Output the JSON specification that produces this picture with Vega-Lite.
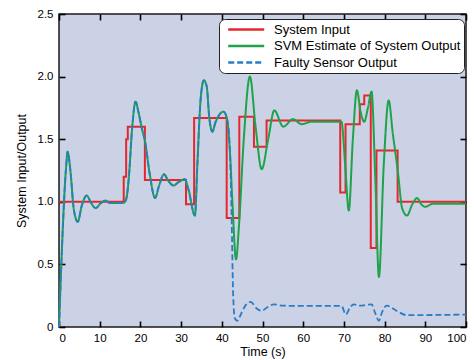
{
  "$schema": "https://vega.github.io/schema/vega-lite/v6.json",
  "width": 407,
  "height": 313,
  "autosize": "none",
  "padding": {"left": 59, "top": 14, "right": 8, "bottom": 33},
  "background": "white",
  "config": {
    "font": "Liberation Sans",
    "view": {"fill": "#cbd2e5", "stroke": "#1a1a1a", "strokeWidth": 1.5},
    "axis": {
      "domain": false, "offset": -6,
      "tickColor": "black", "tickWidth": 1.6, "tickSize": 6,
      "labelFont": "Liberation Sans", "labelFontSize": 11.5, "labelColor": "black",
      "titleFont": "Liberation Sans", "titleFontSize": 12.5, "titleColor": "black", "titleFontWeight": "normal",
      "grid": false
    },
    "legend": {
      "orient": "none", "legendX": 160, "legendY": 5,
      "fillColor": "white", "strokeColor": "#222222", "cornerRadius": 6,
      "padding": 3, "symbolType": "M-3,0H3", "symbolSize": 144, "symbolStrokeWidth": 2.5,
      "symbolOffset": 16.7, "labelFont": "Liberation Sans", "labelFontSize": 13, "labelColor": "black",
      "labelOffset": 20.3, "rowPadding": 1.5, "labelLimit": 300
    }
  },
  "data": {
    "values": [
      {"s": "System Input", "i": 1, "t": 0, "v": 1.0},
      {"s": "System Input", "i": 2, "t": 15.9, "v": 1.0},
      {"s": "System Input", "i": 3, "t": 15.9, "v": 1.2},
      {"s": "System Input", "i": 4, "t": 16.5, "v": 1.2},
      {"s": "System Input", "i": 5, "t": 16.5, "v": 1.5},
      {"s": "System Input", "i": 6, "t": 16.9, "v": 1.5},
      {"s": "System Input", "i": 7, "t": 16.9, "v": 1.6},
      {"s": "System Input", "i": 8, "t": 21.1, "v": 1.6},
      {"s": "System Input", "i": 9, "t": 21.1, "v": 1.175},
      {"s": "System Input", "i": 10, "t": 31.2, "v": 1.175},
      {"s": "System Input", "i": 11, "t": 31.2, "v": 0.98},
      {"s": "System Input", "i": 12, "t": 33.2, "v": 0.98},
      {"s": "System Input", "i": 13, "t": 33.2, "v": 1.67},
      {"s": "System Input", "i": 14, "t": 41.2, "v": 1.67},
      {"s": "System Input", "i": 15, "t": 41.2, "v": 0.87},
      {"s": "System Input", "i": 16, "t": 44.3, "v": 0.87},
      {"s": "System Input", "i": 17, "t": 44.3, "v": 1.68},
      {"s": "System Input", "i": 18, "t": 47.9, "v": 1.68},
      {"s": "System Input", "i": 19, "t": 47.9, "v": 1.44},
      {"s": "System Input", "i": 20, "t": 51.0, "v": 1.44},
      {"s": "System Input", "i": 21, "t": 51.0, "v": 1.65},
      {"s": "System Input", "i": 22, "t": 69.1, "v": 1.65},
      {"s": "System Input", "i": 23, "t": 69.1, "v": 1.075},
      {"s": "System Input", "i": 24, "t": 70.4, "v": 1.075},
      {"s": "System Input", "i": 25, "t": 70.4, "v": 1.62},
      {"s": "System Input", "i": 26, "t": 73.9, "v": 1.62},
      {"s": "System Input", "i": 27, "t": 73.9, "v": 1.78},
      {"s": "System Input", "i": 28, "t": 75.0, "v": 1.78},
      {"s": "System Input", "i": 29, "t": 75.0, "v": 1.85},
      {"s": "System Input", "i": 30, "t": 76.6, "v": 1.85},
      {"s": "System Input", "i": 31, "t": 76.6, "v": 0.63},
      {"s": "System Input", "i": 32, "t": 78.0, "v": 0.63},
      {"s": "System Input", "i": 33, "t": 78.0, "v": 1.41},
      {"s": "System Input", "i": 34, "t": 83.2, "v": 1.41},
      {"s": "System Input", "i": 35, "t": 83.2, "v": 1.0},
      {"s": "System Input", "i": 36, "t": 100, "v": 1.0},

      {"s": "SVM Estimate of System Output", "t": 0, "v": 0},
      {"s": "SVM Estimate of System Output", "t": 1.8, "v": 1.3},
      {"s": "SVM Estimate of System Output", "t": 2.1, "v": 1.4},
      {"s": "SVM Estimate of System Output", "t": 2.8, "v": 1.25},
      {"s": "SVM Estimate of System Output", "t": 3.6, "v": 0.95},
      {"s": "SVM Estimate of System Output", "t": 4.6, "v": 0.84},
      {"s": "SVM Estimate of System Output", "t": 5.6, "v": 0.97},
      {"s": "SVM Estimate of System Output", "t": 6.8, "v": 1.05},
      {"s": "SVM Estimate of System Output", "t": 7.9, "v": 0.99},
      {"s": "SVM Estimate of System Output", "t": 9.0, "v": 0.95},
      {"s": "SVM Estimate of System Output", "t": 10.3, "v": 0.99},
      {"s": "SVM Estimate of System Output", "t": 11.5, "v": 1.01},
      {"s": "SVM Estimate of System Output", "t": 12.5, "v": 0.99},
      {"s": "SVM Estimate of System Output", "t": 15.8, "v": 0.99},
      {"s": "SVM Estimate of System Output", "t": 16.5, "v": 1.02},
      {"s": "SVM Estimate of System Output", "t": 17.1, "v": 1.17},
      {"s": "SVM Estimate of System Output", "t": 18.0, "v": 1.6},
      {"s": "SVM Estimate of System Output", "t": 18.8, "v": 1.8},
      {"s": "SVM Estimate of System Output", "t": 19.5, "v": 1.72},
      {"s": "SVM Estimate of System Output", "t": 20.4, "v": 1.58},
      {"s": "SVM Estimate of System Output", "t": 21.1, "v": 1.49},
      {"s": "SVM Estimate of System Output", "t": 22.3, "v": 1.22},
      {"s": "SVM Estimate of System Output", "t": 23.6, "v": 1.03},
      {"s": "SVM Estimate of System Output", "t": 24.6, "v": 1.13},
      {"s": "SVM Estimate of System Output", "t": 25.8, "v": 1.22},
      {"s": "SVM Estimate of System Output", "t": 26.8, "v": 1.17},
      {"s": "SVM Estimate of System Output", "t": 28.1, "v": 1.13},
      {"s": "SVM Estimate of System Output", "t": 29.5, "v": 1.16},
      {"s": "SVM Estimate of System Output", "t": 30.9, "v": 1.18},
      {"s": "SVM Estimate of System Output", "t": 31.8, "v": 1.1},
      {"s": "SVM Estimate of System Output", "t": 33.4, "v": 0.89},
      {"s": "SVM Estimate of System Output", "t": 34.0, "v": 1.3},
      {"s": "SVM Estimate of System Output", "t": 34.8, "v": 1.82},
      {"s": "SVM Estimate of System Output", "t": 35.6, "v": 1.97},
      {"s": "SVM Estimate of System Output", "t": 36.3, "v": 1.92},
      {"s": "SVM Estimate of System Output", "t": 36.9, "v": 1.68},
      {"s": "SVM Estimate of System Output", "t": 37.7, "v": 1.56},
      {"s": "SVM Estimate of System Output", "t": 38.4, "v": 1.63},
      {"s": "SVM Estimate of System Output", "t": 39.1, "v": 1.68},
      {"s": "SVM Estimate of System Output", "t": 40.4, "v": 1.72},
      {"s": "SVM Estimate of System Output", "t": 41.3, "v": 1.66},
      {"s": "SVM Estimate of System Output", "t": 42.0, "v": 1.4},
      {"s": "SVM Estimate of System Output", "t": 42.6, "v": 1.0},
      {"s": "SVM Estimate of System Output", "t": 43.5, "v": 0.54},
      {"s": "SVM Estimate of System Output", "t": 44.2, "v": 0.8},
      {"s": "SVM Estimate of System Output", "t": 45.4, "v": 1.5},
      {"s": "SVM Estimate of System Output", "t": 46.9, "v": 2.0},
      {"s": "SVM Estimate of System Output", "t": 48.3, "v": 1.6},
      {"s": "SVM Estimate of System Output", "t": 49.8, "v": 1.26},
      {"s": "SVM Estimate of System Output", "t": 51.4, "v": 1.5},
      {"s": "SVM Estimate of System Output", "t": 52.9, "v": 1.73},
      {"s": "SVM Estimate of System Output", "t": 55.1, "v": 1.6},
      {"s": "SVM Estimate of System Output", "t": 57.5, "v": 1.66},
      {"s": "SVM Estimate of System Output", "t": 59.6, "v": 1.62},
      {"s": "SVM Estimate of System Output", "t": 62.0, "v": 1.64},
      {"s": "SVM Estimate of System Output", "t": 69.4, "v": 1.64},
      {"s": "SVM Estimate of System Output", "t": 70.3, "v": 1.3},
      {"s": "SVM Estimate of System Output", "t": 71.2, "v": 0.93},
      {"s": "SVM Estimate of System Output", "t": 72.2, "v": 1.5},
      {"s": "SVM Estimate of System Output", "t": 73.2, "v": 1.89},
      {"s": "SVM Estimate of System Output", "t": 74.1, "v": 1.72},
      {"s": "SVM Estimate of System Output", "t": 75.0, "v": 1.64},
      {"s": "SVM Estimate of System Output", "t": 75.9, "v": 1.75},
      {"s": "SVM Estimate of System Output", "t": 76.8, "v": 1.88},
      {"s": "SVM Estimate of System Output", "t": 77.7, "v": 1.2},
      {"s": "SVM Estimate of System Output", "t": 78.6, "v": 0.4},
      {"s": "SVM Estimate of System Output", "t": 79.8, "v": 1.3},
      {"s": "SVM Estimate of System Output", "t": 81.0, "v": 1.81},
      {"s": "SVM Estimate of System Output", "t": 82.0, "v": 1.55},
      {"s": "SVM Estimate of System Output", "t": 83.3, "v": 1.23},
      {"s": "SVM Estimate of System Output", "t": 84.3, "v": 0.95},
      {"s": "SVM Estimate of System Output", "t": 85.5, "v": 0.89},
      {"s": "SVM Estimate of System Output", "t": 86.8, "v": 0.98},
      {"s": "SVM Estimate of System Output", "t": 88.0, "v": 1.03},
      {"s": "SVM Estimate of System Output", "t": 89.0, "v": 0.98},
      {"s": "SVM Estimate of System Output", "t": 90.0, "v": 0.96},
      {"s": "SVM Estimate of System Output", "t": 91.9, "v": 0.985},
      {"s": "SVM Estimate of System Output", "t": 100, "v": 0.985},

      {"s": "Faulty Sensor Output", "t": 0, "v": 0},
      {"s": "Faulty Sensor Output", "t": 1.8, "v": 1.3},
      {"s": "Faulty Sensor Output", "t": 2.1, "v": 1.4},
      {"s": "Faulty Sensor Output", "t": 2.8, "v": 1.25},
      {"s": "Faulty Sensor Output", "t": 3.6, "v": 0.95},
      {"s": "Faulty Sensor Output", "t": 4.6, "v": 0.84},
      {"s": "Faulty Sensor Output", "t": 5.6, "v": 0.97},
      {"s": "Faulty Sensor Output", "t": 6.8, "v": 1.05},
      {"s": "Faulty Sensor Output", "t": 7.9, "v": 0.99},
      {"s": "Faulty Sensor Output", "t": 9.0, "v": 0.95},
      {"s": "Faulty Sensor Output", "t": 10.3, "v": 0.99},
      {"s": "Faulty Sensor Output", "t": 11.5, "v": 1.01},
      {"s": "Faulty Sensor Output", "t": 12.5, "v": 0.99},
      {"s": "Faulty Sensor Output", "t": 15.8, "v": 0.99},
      {"s": "Faulty Sensor Output", "t": 16.5, "v": 1.02},
      {"s": "Faulty Sensor Output", "t": 17.1, "v": 1.17},
      {"s": "Faulty Sensor Output", "t": 18.0, "v": 1.6},
      {"s": "Faulty Sensor Output", "t": 18.8, "v": 1.8},
      {"s": "Faulty Sensor Output", "t": 19.5, "v": 1.72},
      {"s": "Faulty Sensor Output", "t": 20.4, "v": 1.58},
      {"s": "Faulty Sensor Output", "t": 21.1, "v": 1.49},
      {"s": "Faulty Sensor Output", "t": 22.3, "v": 1.22},
      {"s": "Faulty Sensor Output", "t": 23.6, "v": 1.03},
      {"s": "Faulty Sensor Output", "t": 24.6, "v": 1.13},
      {"s": "Faulty Sensor Output", "t": 25.8, "v": 1.22},
      {"s": "Faulty Sensor Output", "t": 26.8, "v": 1.17},
      {"s": "Faulty Sensor Output", "t": 28.1, "v": 1.13},
      {"s": "Faulty Sensor Output", "t": 29.5, "v": 1.16},
      {"s": "Faulty Sensor Output", "t": 30.9, "v": 1.18},
      {"s": "Faulty Sensor Output", "t": 31.8, "v": 1.1},
      {"s": "Faulty Sensor Output", "t": 33.4, "v": 0.89},
      {"s": "Faulty Sensor Output", "t": 34.0, "v": 1.3},
      {"s": "Faulty Sensor Output", "t": 34.8, "v": 1.82},
      {"s": "Faulty Sensor Output", "t": 35.6, "v": 1.97},
      {"s": "Faulty Sensor Output", "t": 36.3, "v": 1.92},
      {"s": "Faulty Sensor Output", "t": 36.9, "v": 1.68},
      {"s": "Faulty Sensor Output", "t": 37.7, "v": 1.56},
      {"s": "Faulty Sensor Output", "t": 38.4, "v": 1.63},
      {"s": "Faulty Sensor Output", "t": 39.1, "v": 1.68},
      {"s": "Faulty Sensor Output", "t": 40.4, "v": 1.72},
      {"s": "Faulty Sensor Output", "t": 41.3, "v": 1.66},
      {"s": "Faulty Sensor Output", "t": 42.0, "v": 1.4},
      {"s": "Faulty Sensor Output", "t": 42.4, "v": 0.9},
      {"s": "Faulty Sensor Output", "t": 42.8, "v": 0.25},
      {"s": "Faulty Sensor Output", "t": 43.2, "v": 0.07},
      {"s": "Faulty Sensor Output", "t": 43.8, "v": 0.05},
      {"s": "Faulty Sensor Output", "t": 44.8, "v": 0.11},
      {"s": "Faulty Sensor Output", "t": 46.0, "v": 0.18},
      {"s": "Faulty Sensor Output", "t": 47.1, "v": 0.2},
      {"s": "Faulty Sensor Output", "t": 48.5, "v": 0.15},
      {"s": "Faulty Sensor Output", "t": 49.8, "v": 0.13},
      {"s": "Faulty Sensor Output", "t": 51.3, "v": 0.16},
      {"s": "Faulty Sensor Output", "t": 52.8, "v": 0.18},
      {"s": "Faulty Sensor Output", "t": 55.1, "v": 0.17},
      {"s": "Faulty Sensor Output", "t": 60.0, "v": 0.168},
      {"s": "Faulty Sensor Output", "t": 69.4, "v": 0.168},
      {"s": "Faulty Sensor Output", "t": 70.5, "v": 0.1},
      {"s": "Faulty Sensor Output", "t": 71.4, "v": 0.15},
      {"s": "Faulty Sensor Output", "t": 72.4, "v": 0.18},
      {"s": "Faulty Sensor Output", "t": 73.9, "v": 0.17},
      {"s": "Faulty Sensor Output", "t": 76.8, "v": 0.18},
      {"s": "Faulty Sensor Output", "t": 77.7, "v": 0.11},
      {"s": "Faulty Sensor Output", "t": 78.6, "v": 0.05},
      {"s": "Faulty Sensor Output", "t": 79.4, "v": 0.12},
      {"s": "Faulty Sensor Output", "t": 80.5, "v": 0.17},
      {"s": "Faulty Sensor Output", "t": 82.9, "v": 0.13},
      {"s": "Faulty Sensor Output", "t": 85.4, "v": 0.095},
      {"s": "Faulty Sensor Output", "t": 100, "v": 0.099}
    ]
  },
  "layer": [
    {
      "transform": [{"filter": "datum.s === 'System Input'"}],
      "mark": {"type": "line", "strokeWidth": 2, "interpolate": "linear"},
      "encoding": {
        "x": {"field": "t", "type": "quantitative", "scale": {"domain": [0, 100], "nice": false},
              "axis": {"orient": "bottom", "values": [0, 10, 20, 30, 40, 50, 60, 70, 80, 90, 100], "title": "Time (s)", "labelPadding": 5, "titlePadding": 2}},
        "y": {"field": "v", "type": "quantitative", "scale": {"domain": [0, 2.5], "nice": false},
              "axis": {"orient": "left", "values": [0, 0.5, 1, 1.5, 2, 2.5], "labelExpr": "datum.value == 0 ? '0' : format(datum.value, '.1f')", "title": "System Input/Output", "labelPadding": 6, "titlePadding": 9}},
        "order": {"field": "i", "type": "quantitative"},
        "color": {"field": "s", "type": "nominal",
                  "scale": {"domain": ["System Input", "SVM Estimate of System Output", "Faulty Sensor Output"], "range": ["#e6262e", "#1ea34b", "#2b7bc6"]},
                  "legend": {"title": null}},
        "strokeDash": {"field": "s", "type": "nominal",
                  "scale": {"domain": ["System Input", "SVM Estimate of System Output", "Faulty Sensor Output"], "range": [[1, 0], [1, 0], [6, 3]]},
                  "legend": {"title": null}}
      }
    },
    {
      "transform": [{"filter": "datum.s === 'SVM Estimate of System Output'"}],
      "mark": {"type": "line", "strokeWidth": 2, "interpolate": "monotone"},
      "encoding": {
        "x": {"field": "t", "type": "quantitative", "axis": null},
        "y": {"field": "v", "type": "quantitative", "axis": null},
        "color": {"field": "s", "type": "nominal", "legend": {"title": null}},
        "strokeDash": {"field": "s", "type": "nominal", "legend": {"title": null}}
      }
    },
    {
      "transform": [{"filter": "datum.s === 'Faulty Sensor Output'"}],
      "mark": {"type": "line", "strokeWidth": 1.8, "interpolate": "monotone"},
      "encoding": {
        "x": {"field": "t", "type": "quantitative",
              "axis": {"orient": "top", "values": [0, 10, 20, 30, 40, 50, 60, 70, 80, 90, 100], "labels": false, "title": null}},
        "y": {"field": "v", "type": "quantitative",
              "axis": {"orient": "right", "values": [0, 0.5, 1, 1.5, 2, 2.5], "labels": false, "title": null}},
        "color": {"field": "s", "type": "nominal", "legend": {"title": null}},
        "strokeDash": {"field": "s", "type": "nominal", "legend": {"title": null}}
      }
    }
  ],
  "resolve": {"axis": {"x": "independent", "y": "independent"}}
}
